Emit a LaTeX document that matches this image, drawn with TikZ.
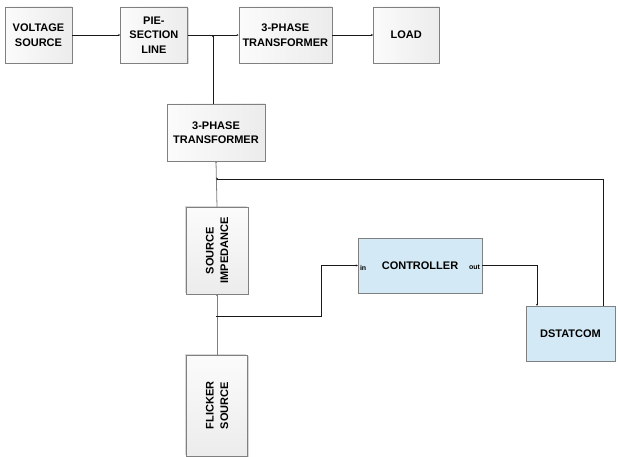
\documentclass[tikz,border=0pt]{standalone}
\usepackage{fontspec}
\setmainfont{Liberation Sans}
\usetikzlibrary{arrows.meta, positioning, shadows}

\definecolor{boxblue}{RGB}{211,234,246}
\definecolor{edgegray}{RGB}{128,128,128}

\begin{document}
\begin{tikzpicture}[x=1pt, y=-1pt,
    block/.style={rectangle, draw=edgegray, left color=gray!3, right color=gray!15,
                  align=center, inner sep=2pt, minimum height=56pt,
                  font=\bfseries\fontsize{11}{14.5}\selectfont,
                  drop shadow={shadow xshift=1.2pt, shadow yshift=-1.2pt, fill=black!30}},
    upright/.style={block, rotate=90, top color=gray!3, bottom color=gray!15,
                  drop shadow={shadow xshift=-1.2pt, shadow yshift=1.2pt, fill=black!30}},
    blueblock/.style={block, fill=boxblue, left color=boxblue, right color=boxblue},
    port/.style={font=\bfseries\fontsize{7}{8}\selectfont, inner sep=1pt},
    wire/.style={-{Stealth[length=2pt, width=2pt]}, black!90, line width=0.8pt},
    feed/.style={-{Stealth[length=2pt, width=2pt]}, edgegray, line width=0.8pt}
]
\useasboundingbox (0,0) rectangle (618,457);

% --- supply chain ---
\node (vs) [block, minimum width=67pt] at (38.5,35) {VOLTAGE\\SOURCE};
\node (pie) [block, minimum width=67pt, right=48pt of vs] {PIE-\\SECTION\\LINE};
\node (tr1) [block, minimum width=93pt, right=51pt of pie] {3-PHASE\\TRANSFORMER};
\node (load) [block, minimum width=66pt, right=41pt of tr1] {LOAD};

% --- flicker branch ---
\node (tr2) [block, minimum width=98pt, minimum height=57pt] at (216,132.5) {3-PHASE\\TRANSFORMER};
\node (si) [upright, minimum width=87pt, minimum height=62pt] at (217,250.5) {SOURCE\\IMPEDANCE};
\node (fl) [upright, minimum width=101pt, minimum height=61pt] at (217,405.5) {FLICKER\\SOURCE};

% --- compensation ---
\node (ctrl) [blueblock, minimum width=124pt, minimum height=55pt] at (420,265.5) {CONTROLLER};
\node (inlbl) [port, anchor=west] at ([xshift=1pt, yshift=-2pt]ctrl.west) {in};
\node (outlbl) [port, anchor=east] at ([xshift=-1pt, yshift=-2pt]ctrl.east) {out};
\node (ds) [blueblock, minimum width=89pt, minimum height=55pt] at (570.5,333.5) {DSTATCOM};

\coordinate (tap1) at (216,179);
\coordinate (tap2) at (216,316);

% --- connectors ---
\draw [wire] (vs) -- (pie);
\draw [wire] (pie) -- (tr1);
\draw [wire] (tr1) -- (load);
\draw [wire] ([xshift=-3pt]tr2.north) -- ([xshift=-3pt]tr2.north |- pie.east);
\draw [feed] (si.east) -- (tr2.south);
\draw [feed] (fl.east) -- (si.west);
\draw [wire] ([xshift=32.5pt]ds.north) |- (tap1);
\draw [wire] (tap2) -- ++(105,0) |- (ctrl.west);
\draw [wire] (ctrl.east) -| ([xshift=-33.5pt]ds.north);
\end{tikzpicture}
\end{document}
